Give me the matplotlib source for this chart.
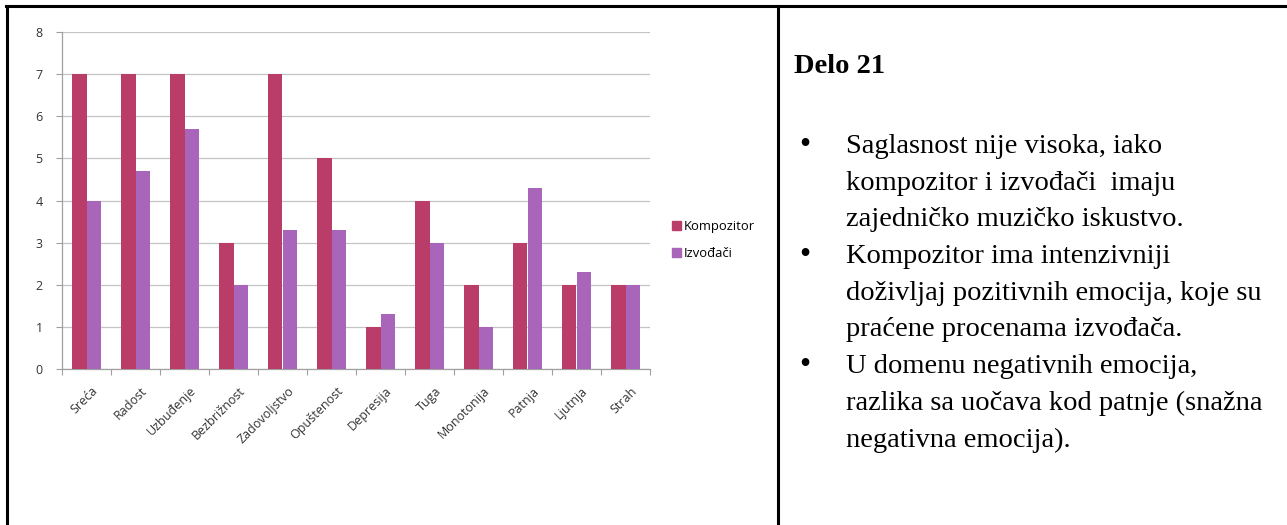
#!/usr/bin/env python3

import numpy as np
import matplotlib.pyplot as plt
from matplotlib.lines import Line2D
from matplotlib.patches import Patch

categories = ["Sreća", "Radost", "Uzbuđenje", "Bezbrižnost", "Zadovoljstvo", "Opuštenost",
              "Depresija", "Tuga", "Monotonija", "Patnja", "Ljutnja", "Strah"]
kompozitor = [7, 7, 7, 3, 7, 5, 1, 4, 2, 3, 2, 2]
izvodjaci = [4, 4.7, 5.7, 2, 3.3, 3.3, 1.3, 3, 1, 4.3, 2.3, 2]
series_names = ["Kompozitor", "Izvođači"]
colors = ["#B93D68", "#A865BA"]

title = "Delo 21"
bullets = [
  ["Saglasnost nije visoka, iako",
   "kompozitor i izvođači  imaju",
   "zajedničko muzičko iskustvo."],
  ["Kompozitor ima intenzivniji",
   "doživljaj pozitivnih emocija, koje su",
   "praćene procenama izvođača."],
  ["U domenu negativnih emocija,",
   "razlika sa uočava kod patnje (snažna",
   "negativna emocija)."],
]

W, H = 1287, 525
fig = plt.figure(figsize=(W / 100, H / 100), dpi=100)

# frame of the table cell
frame = fig.add_axes([0, 0, 1, 1], zorder=-1)
frame.set_xlim(0, W)
frame.set_ylim(H, 0)
frame.axis('off')
frame.add_line(Line2D([7, 7], [6, H], color='black', lw=2.2))
frame.add_line(Line2D([6, W], [6, 6], color='black', lw=2.2))
frame.add_line(Line2D([778, 778], [6, H], color='black', lw=2.2))

# bar chart
ax = fig.add_axes([62 / W, (H - 369) / H, (650 - 62) / W, (369 - 32) / H])
x = np.arange(len(categories))
bw = 0.29
ax.bar(x - bw / 2, kompozitor, bw, color=colors[0], zorder=3)
ax.bar(x + bw / 2, izvodjaci, bw, color=colors[1], zorder=3)

ax.set_xlim(-0.5, len(categories) - 0.5)
ax.set_ylim(0, 8)
ax.set_yticks(range(0, 9))
ax.yaxis.grid(True, color='#C4C4C4', lw=0.9, zorder=0)
ax.set_xticks(np.arange(-0.5, len(categories)), minor=False)
ax.set_xticklabels([])
ax.set_xticks(x + 0.1, minor=True)
ax.set_xticklabels(categories, minor=True, rotation=45, ha='right', rotation_mode='anchor',
                   fontsize=9, color='#333333', family='Open Sans')
ax.tick_params(axis='x', which='minor', length=0, pad=11)
ax.tick_params(axis='x', which='major', length=4, color='#A0A0A0')
ax.tick_params(axis='y', length=4, color='#A0A0A0', labelsize=9, labelcolor='#333333', pad=10)
for lab in ax.get_yticklabels():
  lab.set_family('Open Sans')
for s in ['top', 'right']:
  ax.spines[s].set_visible(False)
for s in ['left', 'bottom']:
  ax.spines[s].set_color('#A0A0A0')
  ax.spines[s].set_linewidth(0.9)

handles = [Patch(color=c, label=n) for c, n in zip(colors, series_names)]
fig.legend(handles=handles, loc='upper left', bbox_to_anchor=(660 / W, 1 - 208 / H),
           frameon=False, prop={'family': 'Open Sans', 'size': 9.4},
           handlelength=0.7, handleheight=0.7, handletextpad=0.25, labelspacing=1.1)

# text panel
fig.text(794 / W, 1 - 73 / H, title, family='Liberation Serif', weight='bold',
         fontsize=20.5, va='baseline', ha='left')
base_y = 153
for block in bullets:
  fig.text(799 / W, 1 - base_y / H, "•", family='Liberation Serif', fontsize=23,
           va='baseline', ha='left')
  for line in block:
    fig.text(846 / W, 1 - base_y / H, line, family='Liberation Serif', fontsize=20.5,
             va='baseline', ha='left')
    base_y += 36.7

fig.savefig("out.png", dpi=100)
